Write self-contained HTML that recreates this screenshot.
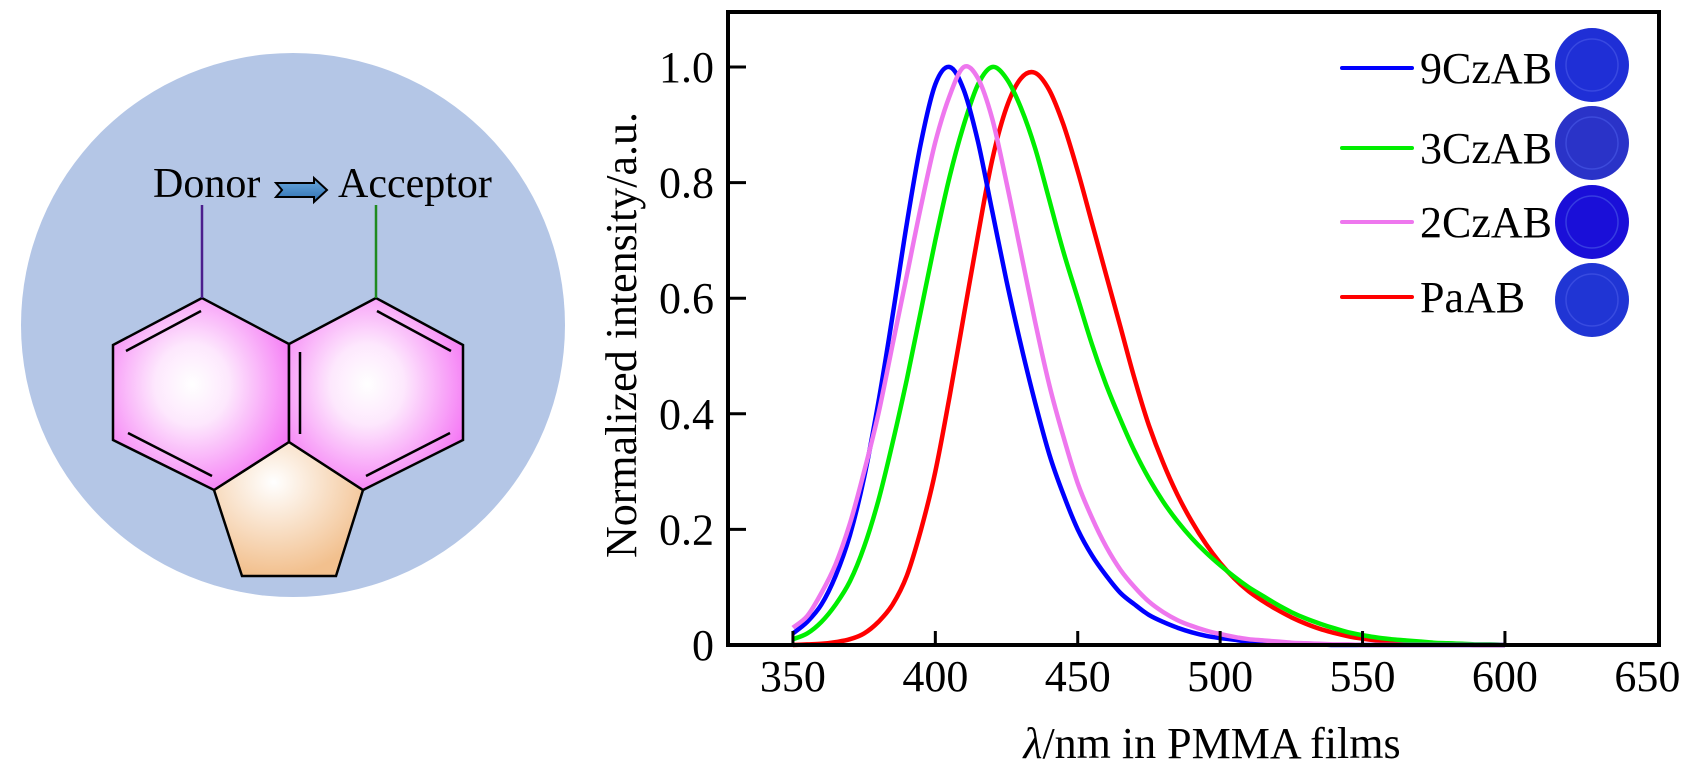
<!DOCTYPE html>
<html><head><meta charset="utf-8"><style>
html,body{margin:0;padding:0;background:#fff;}
svg{display:block;font-family:"Liberation Serif",serif;}
</style></head><body>
<svg width="1694" height="776" viewBox="0 0 1694 776" xmlns="http://www.w3.org/2000/svg">
<defs>
<radialGradient id="pink" cx="0.45" cy="0.45" r="0.6"><stop offset="0" stop-color="#fff"/><stop offset="0.35" stop-color="#fde8fd"/><stop offset="1" stop-color="#f57af5"/></radialGradient>
<radialGradient id="tan" cx="0.4" cy="0.3" r="0.7"><stop offset="0" stop-color="#fff"/><stop offset="1" stop-color="#f2c08e"/></radialGradient>
<linearGradient id="arr" x1="0" y1="0" x2="0" y2="1"><stop offset="0" stop-color="#6aaae0"/><stop offset="1" stop-color="#2f6fb0"/></linearGradient>
</defs>
<g>
<circle cx="293" cy="325" r="272" fill="#b4c6e6"/>
<polygon points="214,490 289,442 363,490 336,576 242,576" fill="url(#tan)" stroke="#000" stroke-width="2.5"/>
<polygon points="202,298 113,345 113,440 214,490 289,442 289,344" fill="url(#pink)" stroke="#000" stroke-width="2.5"/>
<polygon points="376,298 289,344 289,442 363,490 463,440 463,345" fill="url(#pink)" stroke="#000" stroke-width="2.5"/>
<g stroke="#000" stroke-width="2.5">
<line x1="126" y1="351" x2="201" y2="311"/><line x1="128" y1="433" x2="212" y2="476"/>
<line x1="300" y1="352" x2="300" y2="434"/>
<line x1="377" y1="311" x2="451" y2="351"/><line x1="450" y1="433" x2="366" y2="476"/>
</g>
<line x1="202" y1="205" x2="202" y2="298" stroke="#4b1e8c" stroke-width="2.5"/>
<line x1="376" y1="205" x2="376" y2="298" stroke="#1f8a1f" stroke-width="2.5"/>
<text x="153" y="197" font-size="42">Donor</text>
<path d="M276,183 L314,183 L314,178 L327,190 L314,202 L314,197 L276,197 L282,190 Z" fill="url(#arr)" stroke="#000" stroke-width="2"/>
<text x="338" y="197" font-size="42">Acceptor</text>
</g>
<g id="chart"></g>
</svg>
<script>
const wavelengths=[350,355,360,365,370,375,380,385,390,395,400,405,410,415,420,425,430,435,440,445,450,455,460,465,470,475,480,485,490,495,500,505,510,515,520,525,530,535,540,545,550,555,560,565,570,575,580,585,590,595,600];
const s9CzAB=[0.02,0.04,0.07,0.12,0.19,0.29,0.42,0.57,0.73,0.87,0.97,1.0,0.96,0.87,0.75,0.63,0.52,0.42,0.33,0.26,0.2,0.155,0.12,0.09,0.07,0.052,0.04,0.03,0.022,0.016,0.012,0.009,0.006,0.004,0.003,0.002,0.001,0.001,0,0,0,0,0,0,0,0,0,0,0,0,0];
const s3CzAB=[0.01,0.02,0.04,0.07,0.11,0.17,0.25,0.35,0.46,0.58,0.7,0.81,0.9,0.97,1.0,0.98,0.93,0.86,0.77,0.68,0.6,0.52,0.45,0.39,0.335,0.288,0.248,0.214,0.185,0.16,0.138,0.118,0.1,0.085,0.07,0.057,0.046,0.037,0.029,0.022,0.017,0.013,0.01,0.008,0.006,0.004,0.003,0.002,0.001,0.001,0];
const s2CzAB=[0.03,0.05,0.09,0.14,0.21,0.3,0.4,0.52,0.64,0.76,0.87,0.95,1.0,0.98,0.91,0.8,0.68,0.56,0.45,0.36,0.28,0.22,0.17,0.13,0.1,0.075,0.057,0.043,0.033,0.025,0.019,0.014,0.01,0.008,0.006,0.004,0.003,0.002,0.001,0.001,0,0,0,0,0,0,0,0,0,0,0];
const sPaAB=[0,0.001,0.002,0.005,0.01,0.02,0.04,0.07,0.12,0.2,0.3,0.43,0.57,0.71,0.84,0.93,0.98,0.99,0.96,0.9,0.82,0.73,0.64,0.55,0.46,0.38,0.315,0.26,0.214,0.175,0.142,0.115,0.093,0.076,0.061,0.048,0.037,0.028,0.021,0.015,0.011,0.008,0.006,0.004,0.003,0.002,0.001,0.001,0,0,0];
const seriesNames=["9CzAB","3CzAB","2CzAB","PaAB"];
const xTicks=[350,400,450,500,550,600,650];
const yTicks=[0,0.2,0.4,0.6,0.8,1.0];
const yTickLabels=["0","0.2","0.4","0.6","0.8","1.0"];

const NS="http://www.w3.org/2000/svg";
const g=document.getElementById('chart');
const X0=728,X1=1659,Y0=645,YT=12;
function xs(nm){return X0+(nm-327.2)*2.848;}
function ys(v){return Y0-v*578;}
function mk(tag,attrs,parent){const e=document.createElementNS(NS,tag);for(const k in attrs)e.setAttribute(k,attrs[k]);(parent||g).appendChild(e);return e;}
function smooth(pts){
  let d="M"+pts[0][0].toFixed(1)+","+pts[0][1].toFixed(1);
  for(let i=0;i<pts.length-1;i++){
    const p0=pts[Math.max(0,i-1)],p1=pts[i],p2=pts[i+1],p3=pts[Math.min(pts.length-1,i+2)];
    const c1x=p1[0]+(p2[0]-p0[0])/6,c1y=p1[1]+(p2[1]-p0[1])/6;
    const c2x=p2[0]-(p3[0]-p1[0])/6,c2y=p2[1]-(p3[1]-p1[1])/6;
    d+="C"+c1x.toFixed(1)+","+c1y.toFixed(1)+" "+c2x.toFixed(1)+","+c2y.toFixed(1)+" "+p2[0].toFixed(1)+","+p2[1].toFixed(1);
  }
  return d;
}

const colors=["#0000ff","#00ee00","#ee77ee","#ff0000"];
const data=[s9CzAB,s3CzAB,s2CzAB,sPaAB];
const order=[3,1,0,2];
order.forEach(i=>{
  const pts=wavelengths.map((w,j)=>[xs(w),ys(data[i][j])]);
  const p=mk('path',{d:smooth(pts),fill:"none",stroke:colors[i],"stroke-width":4.5,"stroke-linejoin":"round"});
  
  
});
const frame=mk('rect',{x:X0,y:YT,width:X1-X0,height:Y0-YT,fill:"none",stroke:"#000","stroke-width":4});


xTicks.forEach(t=>{
  const x=xs(t);
  if(t<650){const tk=mk('line',{x1:x,y1:Y0,x2:x,y2:Y0-14,stroke:"#000","stroke-width":3});
  
  }
  const tx=mk('text',{x:x,y:Y0+46,"font-size":44,"text-anchor":"middle"});
  tx.textContent=t;
  
  
});
yTicks.forEach((v,i)=>{
  const y=ys(v);
  if(v>0){const tk=mk('line',{x1:X0,y1:y,x2:X0+18,y2:y,stroke:"#000","stroke-width":3});
  
  }
  const tx=mk('text',{x:X0-14,y:y+15,"font-size":44,"text-anchor":"end"});
  tx.textContent=yTickLabels[i];
  
  
});
const xt=mk('text',{x:1212,y:758,"font-size":44,"text-anchor":"middle"});
xt.innerHTML='<tspan font-style="italic">λ</tspan>/nm in PMMA films';


const yt=mk('text',{x:0,y:0,"font-size":44,"text-anchor":"middle",transform:"translate(636,335) rotate(-90)"});
yt.textContent='Normalized intensity/a.u.';


const legY=[68,148,222,297];
const dishCol=["#1f2fd6","#2a33c8","#1a0fd8","#2035d4"];
const dishY=[65,143,222,300];
seriesNames.forEach((n,i)=>{
  const l=mk('line',{x1:1342,y1:legY[i],x2:1412,y2:legY[i],stroke:colors[i],"stroke-width":4,"stroke-linecap":"round"});
  
  
  const t=mk('text',{x:1420,y:legY[i]+15,"font-size":44});
  t.textContent=n;
  
  
  const c=mk('circle',{cx:1592,cy:dishY[i],r:37,fill:dishCol[i]});
  
  
  const c2=mk('circle',{cx:1592,cy:dishY[i],r:26,fill:"none",stroke:"#4a5ae8","stroke-width":1.5,opacity:0.6});
  
  
});
</script>
</body></html>
